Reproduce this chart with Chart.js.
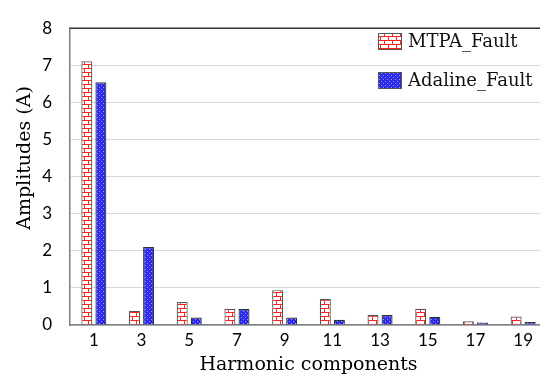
<!DOCTYPE html>
<html>
<head>
<meta charset="utf-8">
<script src="https://cdn.jsdelivr.net/npm/chart.js@4.4.1/dist/chart.umd.min.js"></script>
<style>
  html, body { margin: 0; padding: 0; background: #fff; overflow: hidden; }
  #wrap { width: 547px; height: 380px; position: relative; }
</style>
</head>
<body>
<div id="wrap"><canvas id="harmChart"></canvas></div>
<script>
const harmonics = ['1', '3', '5', '7', '9', '11', '13', '15', '17', '19'];
const mtpaFault = [7.11, 0.38, 0.62, 0.43, 0.94, 0.70, 0.27, 0.44, 0.10, 0.23];
const adalineFault = [6.54, 2.10, 0.20, 0.43, 0.20, 0.14, 0.27, 0.22, 0.07, 0.08];
const seriesNames = ['MTPA_Fault', 'Adaline_Fault'];
const yTitle = 'Amplitudes (A)';

function brickPattern() {
    const c = document.createElement('canvas');
    c.width = 8; c.height = 8;
    const g = c.getContext('2d');
    g.fillStyle = '#ffffff';
    g.fillRect(0, 0, 8, 8);
    g.fillStyle = '#ff2020';
    g.fillRect(0, 0, 8, 1);
    g.fillRect(0, 4, 8, 1);
    g.fillRect(0, 0, 1, 4);
    g.fillRect(4, 4, 1, 4);
    return g.createPattern(c, 'repeat');
}

function dotPattern() {
    const c = document.createElement('canvas');
    c.width = 4; c.height = 4;
    const g = c.getContext('2d');
    g.fillStyle = '#2a2ae8';
    g.fillRect(0, 0, 4, 4);
    g.fillStyle = '#9c9cff';
    g.fillRect(1, 1, 1, 1);
    g.fillRect(3, 3, 1, 1);
    return g.createPattern(c, 'repeat');
}

// legend drawn inside the plot, top right
const insideLegend = {
    id: 'insideLegend',
    afterDraw(chart) {
        const ctx = chart.ctx;
        ctx.save();
        chart.data.datasets.forEach((ds, i) => {
            const y = 33 + i * 39;
            ctx.fillStyle = ds.backgroundColor;
            ctx.fillRect(378, y, 24, 17);
            ctx.strokeStyle = '#555';
            ctx.lineWidth = 1;
            ctx.strokeRect(378.5, y + 0.5, 23, 16);
            ctx.fillStyle = '#111';
            ctx.font = '18px "DejaVu Serif"';
            ctx.textBaseline = 'middle';
            ctx.fillText(ds.label, 408, y + 9);
        });
        ctx.restore();
    }
};

// top border of the plot area + y axis title (Excel centres it a bit higher)
const plotFrame = {
    id: 'plotFrame',
    afterDraw(chart) {
        const a = chart.chartArea;
        const ctx = chart.ctx;
        ctx.save();
        ctx.strokeStyle = '#333';
        ctx.lineWidth = 1.5;
        ctx.beginPath();
        ctx.moveTo(a.left, a.top);
        ctx.lineTo(a.right, a.top);
        ctx.stroke();

        ctx.translate(25, 158);
        ctx.rotate(-Math.PI / 2);
        ctx.fillStyle = '#000';
        ctx.font = '19px "DejaVu Serif"';
        ctx.textAlign = 'center';
        ctx.textBaseline = 'middle';
        ctx.fillText(yTitle, 0, 0);
        ctx.restore();
    }
};

document.addEventListener('DOMContentLoaded', function() {
    const data = {
        labels: harmonics,
        datasets: [{
            label: seriesNames[0],
            data: mtpaFault,
            backgroundColor: brickPattern(),
            borderColor: '#555',
            borderWidth: 1.2,
        }, {
            label: seriesNames[1],
            data: adalineFault,
            backgroundColor: dotPattern(),
            borderColor: '#333',
            borderWidth: 1.2,
        }]
    };

    new Chart(document.getElementById('harmChart').getContext('2d'), {
        type: 'bar',
        data: data,
        options: {
            responsive: true,
            maintainAspectRatio: false,
            animation: false,
            layout: { padding: { top: 11, right: 0, left: 0, bottom: 0 } },
            datasets: {
                bar: { categoryPercentage: 0.59, barPercentage: 0.78 }
            },
            plugins: {
                legend: { display: false },
                tooltip: { enabled: false }
            },
            scales: {
                x: {
                    afterFit(s) { s.height = 55; },
                    grid: { display: false, drawTicks: false },
                    border: { color: '#7f7f7f', width: 1.5 },
                    ticks: {
                        color: '#000',
                        padding: 5,
                        font: { family: 'Lato', size: 17 }
                    },
                    title: {
                        display: true,
                        text: 'Harmonic components',
                        color: '#000',
                        padding: { top: 0, bottom: 4 },
                        font: { family: 'DejaVu Serif', size: 19 }
                    }
                },
                y: {
                    min: 0,
                    max: 8,
                    afterFit(s) { s.width = 70; },
                    grid: { color: '#d9d9d9', lineWidth: 1, drawTicks: false },
                    border: { color: '#7f7f7f', width: 1.5 },
                    ticks: {
                        stepSize: 1,
                        color: '#000',
                        padding: 18,
                        font: { family: 'Lato', size: 17 }
                    }
                }
            }
        },
        plugins: [insideLegend, plotFrame]
    });
});
</script>
</body>
</html>
